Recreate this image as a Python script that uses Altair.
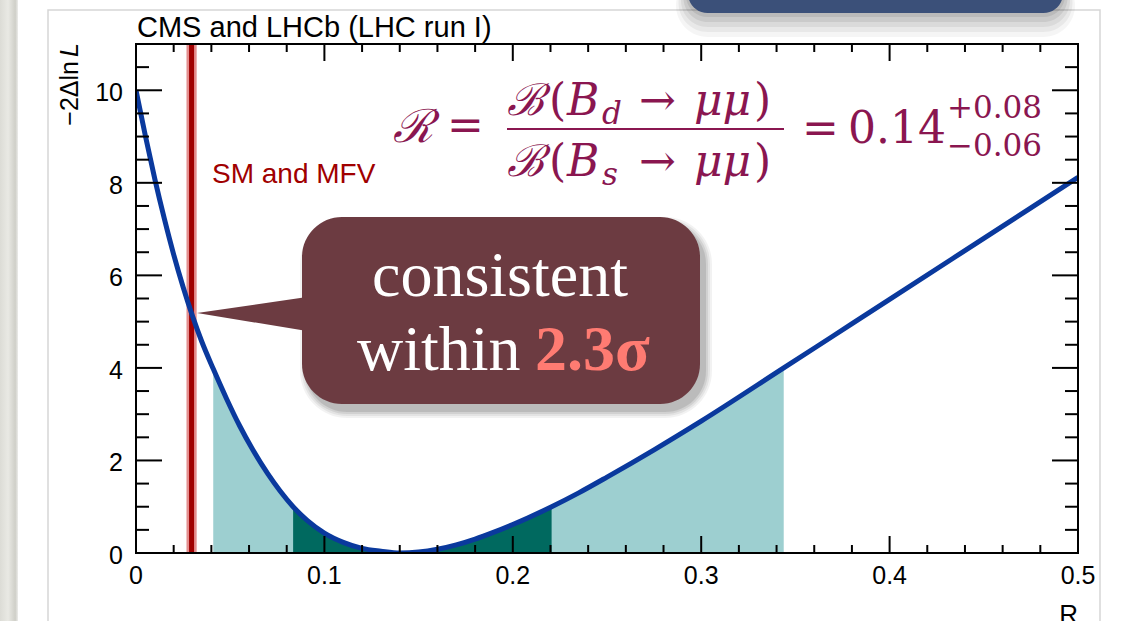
import altair as alt
import pandas as pd

# Profile-likelihood scan of R = B(Bd->mumu) / B(Bs->mumu)
r_vals = [0.0, 0.005, 0.010, 0.015, 0.020, 0.025, 0.030, 0.035, 0.041, 0.048,
          0.055, 0.062, 0.070, 0.0765, 0.0834, 0.091, 0.100, 0.110, 0.120, 0.130,
          0.140, 0.150, 0.160, 0.170, 0.180, 0.190, 0.200, 0.2206, 0.235, 0.250,
          0.275, 0.300, 0.3438, 0.370, 0.400, 0.450, 0.500]
nll_vals = [10.0, 9.01, 8.08, 7.23, 6.45, 5.75, 5.12, 4.56, 3.98, 3.34,
            2.75, 2.23, 1.71, 1.34, 1.0, 0.70, 0.43, 0.23, 0.10, 0.04,
            0.0, 0.02, 0.08, 0.175, 0.30, 0.45, 0.615, 1.0, 1.30, 1.64,
            2.23, 2.85, 4.0, 4.69, 5.48, 6.80, 8.12]

# 68% and 95% CL intervals
one_sigma = [0.0834, 0.2206]
two_sigma = [0.041, 0.3438]

# SM (and MFV) expectation with its uncertainty band
sm_value = 0.0295
sm_band = [0.0268, 0.0322]

x_major = [0.0, 0.1, 0.2, 0.3, 0.4, 0.5]
x_labels = ["0", "0.1", "0.2", "0.3", "0.4", "0.5"]
x_minor = [0.02, 0.04, 0.06, 0.08, 0.12, 0.14, 0.16, 0.18, 0.22, 0.24,
           0.26, 0.28, 0.32, 0.34, 0.36, 0.38, 0.42, 0.44, 0.46, 0.48]
y_major = [0, 2, 4, 6, 8, 10]
y_labels = ["0", "2", "4", "6", "8", "10"]
y_minor = [0.5, 1, 1.5, 2.5, 3, 3.5, 4.5, 5, 5.5, 6.5, 7, 7.5, 8.5, 9, 9.5, 10.5, 11]

W, H = 942, 509
xs = alt.Scale(domain=[0, 0.5], nice=False, zero=False)
ys = alt.Scale(domain=[0, 11], nice=False, zero=False)

SANS = "Liberation Sans"
SERIF = "Liberation Serif"
MATHFONT = "DejaVu Serif"
MATH = "#8a1650"
CALLOUT = "#6c3b41"

curve = pd.DataFrame({"R": r_vals, "nll": nll_vals})


def blank():
    return alt.Chart(alt.Data(values=[{}]))


def xq(field="R"):
    return alt.X(f"{field}:Q", scale=xs, axis=None)


def yq(field="nll"):
    return alt.Y(f"{field}:Q", scale=ys, axis=None)


def box(x0, x1, y0, y1, **kw):
    return blank().mark_rect(**kw).encode(
        x=alt.value(x0), x2=alt.value(x1), y=alt.value(y0), y2=alt.value(y1))


def label(text, x, y, **kw):
    kw.setdefault("align", "left")
    kw.setdefault("baseline", "alphabetic")
    return blank().mark_text(text=text, **kw).encode(x=alt.value(x), y=alt.value(y))


def math(text, x, y, size=44, italic=False, **kw):
    if italic:
        kw["fontStyle"] = "italic"
    return label(text, x, y, font=MATHFONT, fontSize=size, color=MATH, **kw)


layers = []

# page decoration: grey binding strip, canvas border, top banner
strip = alt.LinearGradient(
    gradient="linear", x1=0, x2=1, y1=0, y2=0,
    stops=[alt.GradientStop(color="#dcdcd6", offset=0),
           alt.GradientStop(color="#e9e9e4", offset=0.45),
           alt.GradientStop(color="#cfcfc8", offset=0.85),
           alt.GradientStop(color="#ececea", offset=1)])
layers.append(box(-136, -118, -44, 577, fill=strip))
layers.append(box(-88, 964, -34, 640, fill="white", stroke="#d6d6d6", strokeWidth=1.5))
for k, op in enumerate([0.04, 0.05, 0.06, 0.07, 0.08]):
    grow = 24 - 5 * k
    layers.append(box(552 - grow / 2, 927 + grow / 2, -70, -31 + grow,
                      fill="black", opacity=op, cornerRadius=28 + grow))
layers.append(box(552, 927, -70, -31, fill="#3b5079", cornerRadius=28))

# confidence-interval shading under the curve
light = curve[(curve.R >= two_sigma[0]) & (curve.R <= two_sigma[1])]
dark = curve[(curve.R >= one_sigma[0]) & (curve.R <= one_sigma[1])]
layers.append(alt.Chart(light).mark_area(interpolate="monotone", color="#9dcfd0").encode(
    x=xq(), y=yq(), y2=alt.datum(0)))
layers.append(alt.Chart(dark).mark_area(interpolate="monotone", color="#00695f").encode(
    x=xq(), y=yq(), y2=alt.datum(0)))

# SM band and central value
sm = pd.DataFrame({"lo": [sm_band[0]], "hi": [sm_band[1]], "c": [sm_value]})
layers.append(alt.Chart(sm).mark_rect(color="#e48e8e").encode(
    x=xq("lo"), x2=alt.X2("hi:Q"), y=alt.value(0), y2=alt.value(H)))
layers.append(alt.Chart(sm).mark_rule(color="#a00000", strokeWidth=5).encode(
    x=xq("c"), y=alt.value(0), y2=alt.value(H)))

# likelihood curve
layers.append(alt.Chart(curve).mark_line(
    interpolate="monotone", color="#0a399d", strokeWidth=5, clip=True).encode(x=xq(), y=yq()))

# frame with inward ticks on all four sides
layers.append(box(0, W, 0, H, filled=False, stroke="black", strokeWidth=2))
for vals, ln in ((x_major, 17), (x_minor, 8)):
    d = pd.DataFrame({"v": vals})
    layers.append(alt.Chart(d).mark_rule(color="black", strokeWidth=2).encode(
        x=xq("v"), y=alt.value(H), y2=alt.value(H - ln)))
    layers.append(alt.Chart(d).mark_rule(color="black", strokeWidth=2).encode(
        x=xq("v"), y=alt.value(0), y2=alt.value(ln)))
for vals, ln in ((y_major, 26), (y_minor, 13)):
    d = pd.DataFrame({"v": vals})
    layers.append(alt.Chart(d).mark_rule(color="black", strokeWidth=2).encode(
        y=yq("v"), x=alt.value(0), x2=alt.value(ln)))
    layers.append(alt.Chart(d).mark_rule(color="black", strokeWidth=2).encode(
        y=yq("v"), x=alt.value(W), x2=alt.value(W - ln)))

# tick labels
layers.append(alt.Chart(pd.DataFrame({"v": x_major, "t": x_labels})).mark_text(
    font=SANS, fontSize=25, baseline="alphabetic", color="black").encode(
    x=xq("v"), y=alt.value(540), text="t:N"))
layers.append(alt.Chart(pd.DataFrame({"v": y_major, "t": y_labels})).mark_text(
    font=SANS, fontSize=25, baseline="middle", align="right", dy=3, color="black").encode(
    y=yq("v"), x=alt.value(-13), text="t:N"))

# axis titles and header
layers.append(label("L", -58, -1, font=SANS, fontSize=25, fontStyle="italic",
                    angle=270, align="right"))
layers.append(label("\u22122\u0394ln", -58, 17, font=SANS, fontSize=25,
                    angle=270, align="right"))
layers.append(label("R", W, 579, font=SANS, fontSize=26, align="right"))
layers.append(label("CMS and LHCb (LHC run I)", 1, -7, font=SANS, fontSize=29))
layers.append(label("SM and MFV", 76, 139, font=SANS, fontSize=28, color="#a00000"))

# ratio definition and measured value
layers.append(math("\u211b", 257, 98, size=46, italic=True))
layers.append(math("=", 311, 96, size=44))
layers.append(blank().mark_rule(color=MATH, strokeWidth=2).encode(
    x=alt.value(371), x2=alt.value(648), y=alt.value(85)))
for base, sub in ((71, "d"), (132, "s")):
    layers.append(math("\u212c", 371, base, italic=True))
    layers.append(math("(", 413, base))
    layers.append(math("B", 431, base, italic=True))
    layers.append(math(sub, 466, base + 9, size=31, italic=True))
    layers.append(math("\u2192", 503, base))
    layers.append(math("\u03bc\u03bc", 558, base, italic=True))
    layers.append(math(")", 618, base))
layers.append(math("=", 666, 99))
layers.append(math("0.14", 712, 99))
layers.append(math("+0.08", 811, 74, size=31))
layers.append(math("\u22120.06", 811, 112, size=31))

# speech-bubble callout pointing at the SM crossing
for k, op in enumerate([0.05, 0.06, 0.08, 0.10]):
    grow = 14 - 4 * k
    layers.append(box(166 + 5 - grow / 2, 564 + 5 + grow / 2, 173 + 7 - grow / 2,
                      360 + 7 + grow / 2, fill="black", opacity=op,
                      cornerRadius=40 + grow / 2))
layers.append(box(166, 564, 173, 360, fill=CALLOUT, cornerRadius=40))
layers.append(blank().mark_point(
    shape="M0,0L110,-16L110,18Z", size=4, filled=True, fill=CALLOUT, opacity=1,
    strokeWidth=0).encode(x=alt.value(61), y=alt.value(269)))
layers.append(label("consistent", 364, 252, font=SERIF, fontSize=64, color="white",
                    align="center"))
layers.append(label("within", 221, 326, font=SERIF, fontSize=64, color="white"))
layers.append(label("2.3\u03c3", 399, 326, font=SERIF, fontSize=64, fontWeight="bold",
                    color="#ff7b72"))

chart = alt.layer(*layers).properties(
    width=W, height=H,
    autosize=alt.AutoSizeParams(type="none"),
    padding={"left": 136, "top": 44, "right": 43, "bottom": 68},
    background="white",
).configure_view(stroke=None)

chart.save("out.html", embed_options={"renderer": "svg", "actions": False})
